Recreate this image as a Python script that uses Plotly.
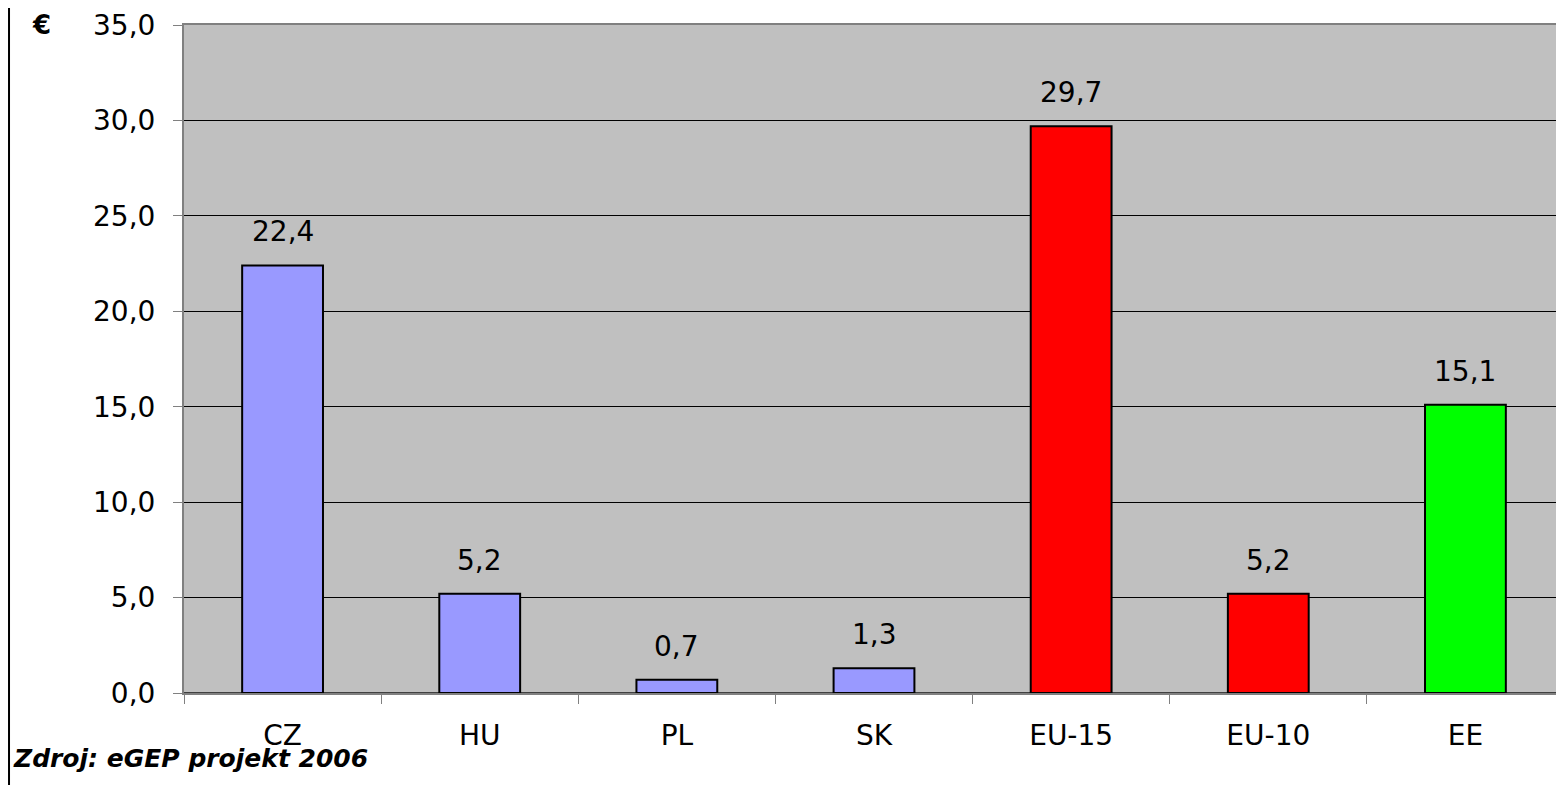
import plotly.graph_objects as go

zeme = ["CZ", "HU", "PL", "SK", "EU-15", "EU-10", "EE"]
hodnoty = [22.4, 5.2, 0.7, 1.3, 29.7, 5.2, 15.1]
barvy = ["#9999FF", "#9999FF", "#9999FF", "#9999FF", "#FF0000", "#FF0000", "#00FF00"]

pismo = "DejaVu Sans, Arial, sans-serif"

fig = go.Figure(
    data=go.Bar(
        x=zeme,
        y=hodnoty,
        marker=dict(color=barvy, line=dict(color="black", width=2)),
        width=0.41,
        hoverinfo="x+y",
    )
)

# popisky hodnot nad sloupci
for z, h in zip(zeme, hodnoty):
    fig.add_annotation(
        x=z, y=h, text=f"{h:.1f}".replace(".", ","),
        showarrow=False, yanchor="bottom", yshift=15,
        font=dict(family=pismo, size=28, color="black"),
    )

fig.add_annotation(
    xref="paper", yref="paper", x=-0.1029, y=1.0,
    text="<b>€</b>", showarrow=False, xanchor="center", yanchor="middle",
    font=dict(family=pismo, size=26, color="black"),
)
fig.add_annotation(
    xref="paper", yref="paper", x=-0.1255, y=-0.0988,
    text="<b><i>Zdroj: eGEP projekt 2006</i></b>", showarrow=False,
    xanchor="left", yanchor="middle",
    font=dict(family=pismo, size=25, color="black"),
)

# levý okraj rámečku grafu
fig.add_shape(
    type="line", xref="paper", yref="paper",
    x0=-0.1268, x1=-0.1268, y0=-0.2, y1=1.1,
    line=dict(color="black", width=2),
)

fig.update_layout(
    width=1556,
    height=777,
    margin=dict(l=176, r=0, t=17, b=92),
    paper_bgcolor="white",
    plot_bgcolor="#C0C0C0",
    separators=", ",
    showlegend=False,
    bargap=0.59,
    font=dict(family=pismo, size=28, color="black"),
    xaxis=dict(
        range=[-0.5, 6.5],
        showline=True, linecolor="#808080", linewidth=2, mirror=True,
        ticks="outside", ticklen=9, tickcolor="#808080",
        tickson="boundaries",
        ticklabelstandoff=16,
        showgrid=False,
        tickfont=dict(family=pismo, size=28),
    ),
    yaxis=dict(
        range=[0, 35],
        dtick=5,
        tickformat=".1f",
        showline=True, linecolor="#808080", linewidth=2,
        ticks="outside", ticklen=9, tickcolor="#808080",
        ticklabelstandoff=12,
        showgrid=True, gridcolor="black", gridwidth=1,
        zeroline=True, zerolinecolor="#404040", zerolinewidth=2,
        tickfont=dict(family=pismo, size=28),
    ),
)

fig.write_html("out.html")
